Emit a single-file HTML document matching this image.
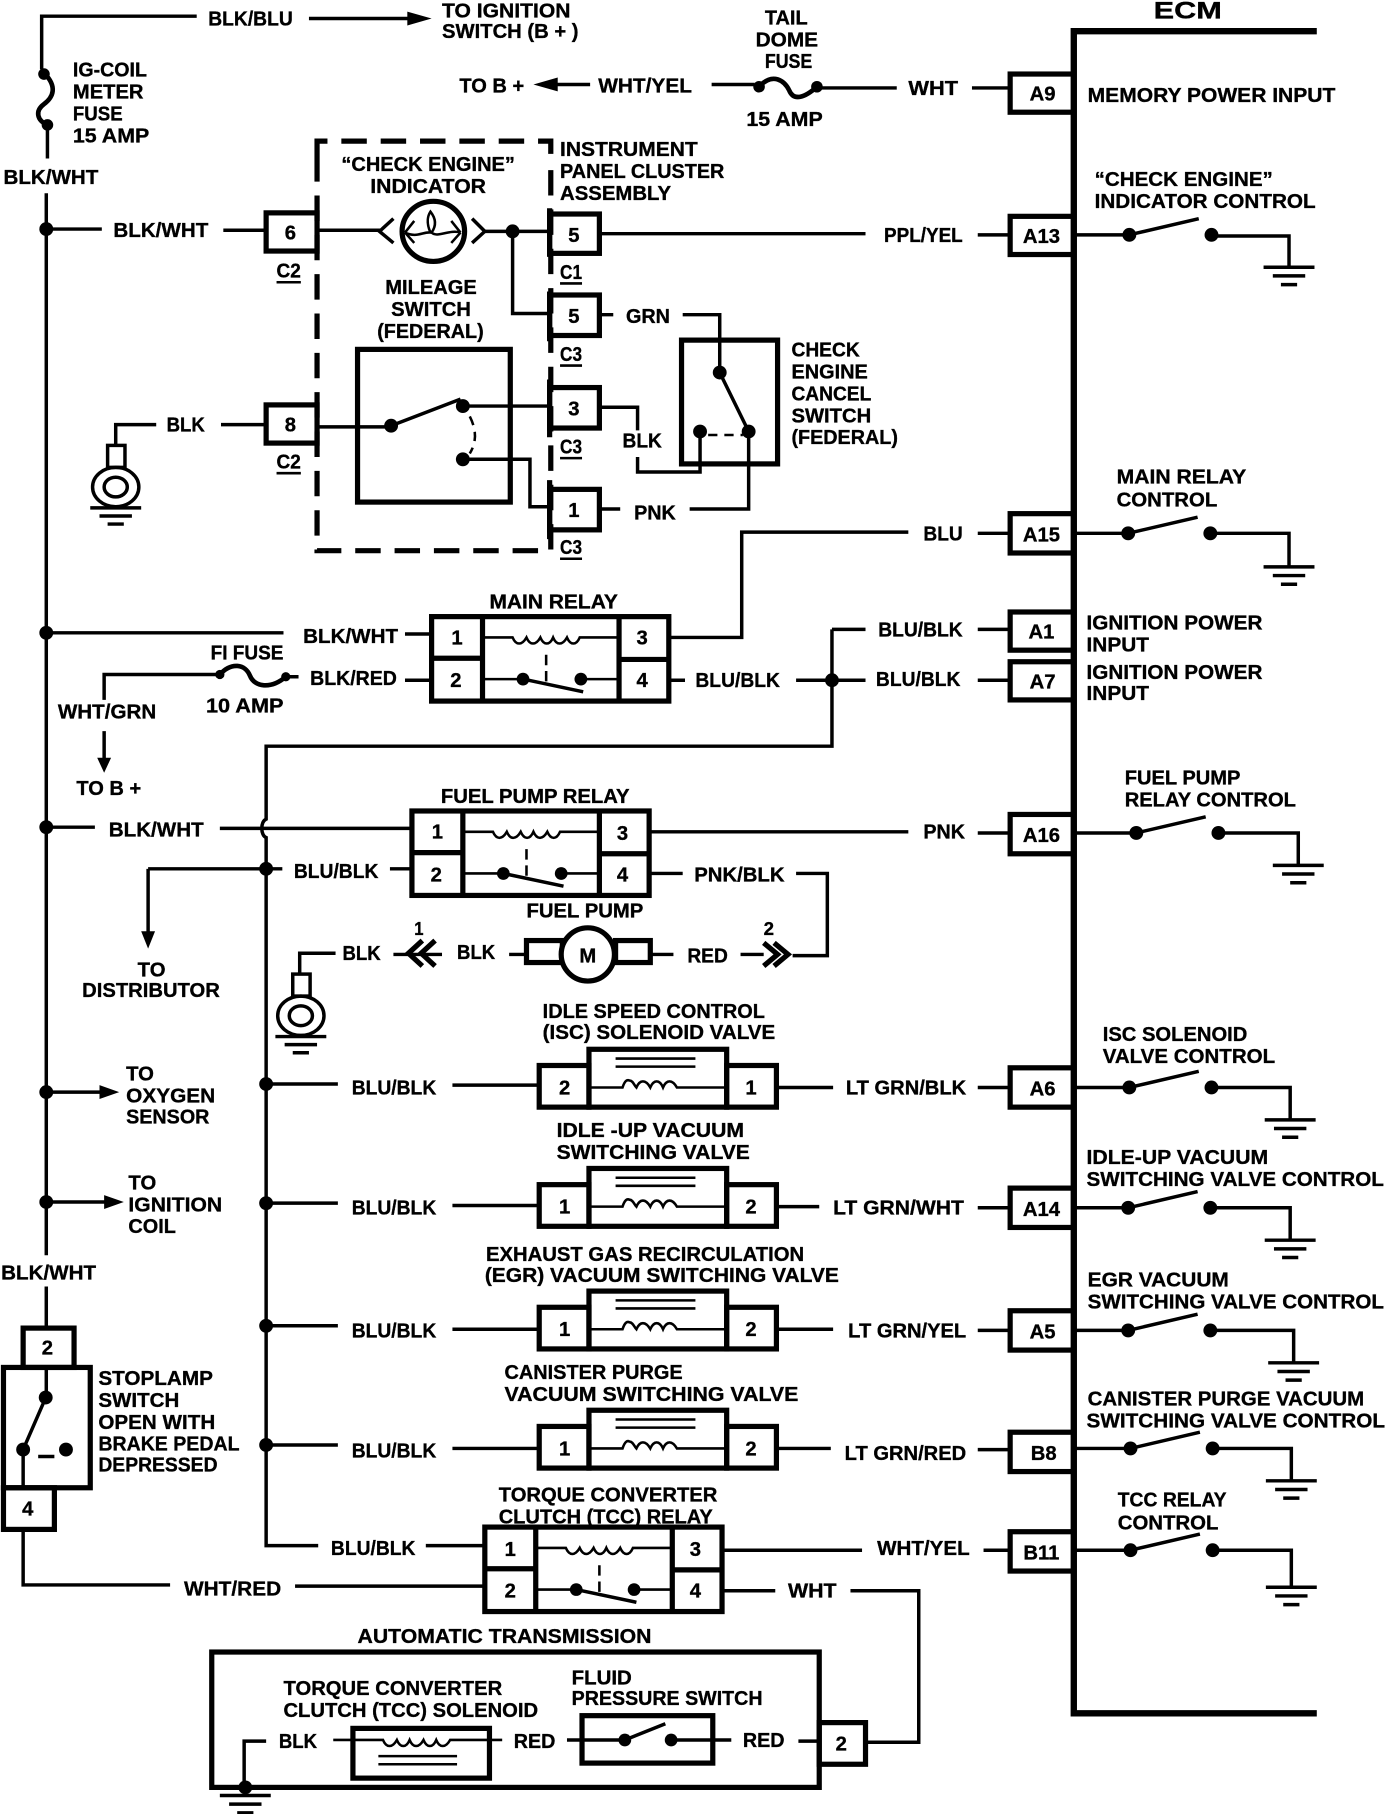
<!DOCTYPE html>
<html><head><meta charset="utf-8"><title>ECM wiring diagram</title>
<style>
html,body{margin:0;padding:0;background:#fff;width:1392px;height:1814px;overflow:hidden}
svg{display:block}
text{font-family:"Liberation Sans",sans-serif;font-weight:bold;font-size:17.5px;fill:#000;stroke:#000;stroke-width:.3}
.c{text-anchor:middle}
.w{fill:none;stroke:#000;stroke-width:3}
.b{fill:none;stroke:#000;stroke-width:4.5}
.t{fill:none;stroke:#000;stroke-width:2.2}
.d{fill:#000;stroke:none}
</style></head><body>
<svg xmlns="http://www.w3.org/2000/svg" width="1392" height="1814" viewBox="0 0 1203 1568" preserveAspectRatio="none">
<defs>
<g id="g"><path class="w" d="M-22 0H22M-14 7.5H14M-7 15H7"/></g>
<g id="s"><circle class="d" r="6"/><circle class="d" cx="71" r="6"/><path class="w" d="M0 0L60-14"/></g>
<g id="e"><rect class="w" x="-7" y="0" width="15" height="19"/><ellipse class="w" cx="0" cy="36" rx="20" ry="17"/><ellipse class="w" cx="0" cy="36" rx="10" ry="8.5"/><path class="w" d="M-22 54H22M-14 61H14M-7 68H7"/></g>
<g id="sol"><rect class="b" x="0" y="-33" width="119" height="50"/><rect class="b" x="-43" y="-19" width="43" height="36"/><rect class="b" x="119" y="-19" width="43" height="36"/><path class="t" d="M0 0H29c2-6 4-7 6-6c3 0 4 4 6 6c3-7 8-7 12 0c3-7 8-7 11 0c3-7 8-7 12 0c2 0 3 0 5 0H119"/><path class="t" d="M23-25H92M23-18H92"/></g>
<g id="r"><rect class="b" width="205" height="73"/><path class="b" d="M44 0V73M162 0V73M0 36H44M162 37H205"/><path class="t" d="M44 18H70c3 7 8 7 12 0c3 7 8 7 12 0c3 7 8 7 11 0c3 7 8 7 12 0c3 7 8 7 11 0H162M44 54H79M129 54H162"/><path class="t" stroke-dasharray="9 5" d="M99 33V59"/><circle class="d" cx="79" cy="54" r="5.5"/><circle class="d" cx="129" cy="54" r="5.5"/><path class="w" d="M79 54L131 65"/></g>
</defs>

<!-- ECM -->
<path style="fill:none;stroke:#000;stroke-width:5.5" d="M1138 27H928V1481H1138"/>
<text x="997" y="16" textLength="59" lengthAdjust="spacingAndGlyphs" style="font-size:21px">ECM</text>

<!-- top wires -->
<path class="w" d="M36 60V14H170M267 16H360M41 108V137M40 167V1085M40 1112V1148"/>
<path class="d" d="M352 10L373 16L352 22Z"/>
<path class="w" style="stroke-width:4" d="M38 63C50 75 46 84 38 90C30 96 32 104 41 108"/>
<circle class="d" cx="38" cy="64" r="5"/><circle class="d" cx="41" cy="108" r="5"/>
<text x="180" y="22" textLength="73" lengthAdjust="spacingAndGlyphs">BLK/BLU</text>
<text x="382" y="15" textLength="111" lengthAdjust="spacingAndGlyphs">TO IGNITION</text>
<text x="382" y="33" textLength="118" lengthAdjust="spacingAndGlyphs">SWITCH (B + )</text>
<text x="63" y="66" textLength="64" lengthAdjust="spacingAndGlyphs">IG-COIL</text>
<text x="63" y="85" textLength="61" lengthAdjust="spacingAndGlyphs">METER</text>
<text x="63" y="104" textLength="43" lengthAdjust="spacingAndGlyphs">FUSE</text>
<text x="63" y="123" textLength="66" lengthAdjust="spacingAndGlyphs">15 AMP</text>
<text x="3" y="159" textLength="82" lengthAdjust="spacingAndGlyphs">BLK/WHT</text>

<!-- A9 row -->
<path class="w" d="M510 73H475M615 73H652M708 76H775M840 76H873"/>
<path class="d" d="M482 67L461 73L482 79Z"/>
<path class="w" style="stroke-width:4" d="M656 75C668 62 678 70 682 78C686 88 696 84 706 75"/>
<circle class="d" cx="656" cy="75" r="5"/><circle class="d" cx="706" cy="75" r="5"/>
<text x="397" y="80" textLength="56" lengthAdjust="spacingAndGlyphs">TO B +</text>
<text x="517" y="80" textLength="81" lengthAdjust="spacingAndGlyphs">WHT/YEL</text>
<text x="661" y="21" textLength="37" lengthAdjust="spacingAndGlyphs">TAIL</text>
<text x="653" y="40" textLength="54" lengthAdjust="spacingAndGlyphs">DOME</text>
<text x="661" y="59" textLength="41" lengthAdjust="spacingAndGlyphs">FUSE</text>
<text x="645" y="109" textLength="66" lengthAdjust="spacingAndGlyphs">15 AMP</text>
<text x="785" y="82" textLength="43" lengthAdjust="spacingAndGlyphs">WHT</text>
<rect class="b" x="873" y="64" width="55" height="33"/><text class="c" x="901" y="87">A9</text>
<text x="940" y="88" textLength="214" lengthAdjust="spacingAndGlyphs">MEMORY POWER INPUT</text>

<!-- dashed cluster -->
<path class="b" stroke-dasharray="22 12" d="M274 135V122H476V135M274 135V476H476V135"/>
<text x="295" y="148" textLength="150" lengthAdjust="spacingAndGlyphs">“CHECK ENGINE”</text>
<text x="320" y="167" textLength="100" lengthAdjust="spacingAndGlyphs">INDICATOR</text>
<text x="484" y="135" textLength="119" lengthAdjust="spacingAndGlyphs">INSTRUMENT</text>
<text x="484" y="154" textLength="142" lengthAdjust="spacingAndGlyphs">PANEL CLUSTER</text>
<text x="484" y="173" textLength="96" lengthAdjust="spacingAndGlyphs">ASSEMBLY</text>
<text x="333" y="254" textLength="79" lengthAdjust="spacingAndGlyphs">MILEAGE</text>
<text x="338" y="273" textLength="69" lengthAdjust="spacingAndGlyphs">SWITCH</text>
<text x="326" y="292" textLength="92" lengthAdjust="spacingAndGlyphs">(FEDERAL)</text>

<!-- row 198 -->
<path class="w" d="M40 198H88M193 199H230M275 199H329M419 200H475M518 202H748M845 203H873M443 200V271H475"/>
<circle class="d" cx="40" cy="198" r="6"/><circle class="d" cx="443" cy="200" r="6"/>
<text x="98" y="205" textLength="82" lengthAdjust="spacingAndGlyphs">BLK/WHT</text>
<rect class="b" x="230" y="184" width="44" height="33"/><text class="c" x="251" y="207">6</text>
<text x="239" y="240" textLength="21" lengthAdjust="spacingAndGlyphs">C2</text><path class="t" d="M239 244H260"/>
<path class="w" d="M340 189L328 200L340 210M408 189L419 200L408 210"/>
<ellipse cx="374.500" cy="200" rx="27" ry="26" style="fill:none;stroke:#000;stroke-width:4.5"/>
<path class="t" d="M350 201C360 206 366 200 372 201C368 192 370 186 372 183C376 188 378 194 373 201C378 206 388 198 398 201M350 201L358 191M350 201L358 210M398 201L390 191M398 201L390 210"/>
<rect class="b" x="475" y="185" width="43" height="34"/><text class="c" x="496" y="209">5</text>
<path class="b" d="M475 180V222"/>
<text x="484" y="241" textLength="19" lengthAdjust="spacingAndGlyphs">C1</text><path class="t" d="M484 245H503"/>
<text x="764" y="209" textLength="68" lengthAdjust="spacingAndGlyphs">PPL/YEL</text>
<rect class="b" x="873" y="187" width="55" height="33"/><text class="c" x="900" y="210">A13</text>

<!-- 5 GRN -->
<rect class="b" x="475" y="255" width="43" height="35"/><text class="c" x="496" y="279">5</text>
<path class="b" d="M475 252V295"/>
<text x="484" y="312" textLength="19" lengthAdjust="spacingAndGlyphs">C3</text><path class="t" d="M484 316H503"/>
<path class="w" d="M518 272H530M590 272H622V322"/>
<text x="541" y="279" textLength="38" lengthAdjust="spacingAndGlyphs">GRN</text>

<!-- mileage switch -->
<rect class="b" x="309" y="302" width="132" height="132"/>
<path class="w" d="M191 367H230M273 369H338M338 368L398 345M400 351H475M400 397H458V438H475"/>
<circle class="d" cx="338" cy="368" r="6"/><circle class="d" cx="400" cy="351" r="6"/><circle class="d" cx="400" cy="397" r="6"/>
<path class="t" stroke-dasharray="8 6" d="M406 360C412 372 412 382 406 392"/>
<rect class="b" x="230" y="350" width="44" height="33"/><text class="c" x="251" y="373">8</text>
<text x="239" y="405" textLength="21" lengthAdjust="spacingAndGlyphs">C2</text><path class="t" d="M239 409H260"/>
<text x="144" y="373" textLength="33" lengthAdjust="spacingAndGlyphs">BLK</text>
<path class="w" d="M135 367H100V385"/>
<use href="#e" x="100" y="385"/>

<rect class="b" x="475" y="335" width="43" height="35"/><text class="c" x="496" y="359">3</text>
<path class="b" d="M475 328V378"/>
<text x="484" y="392" textLength="19" lengthAdjust="spacingAndGlyphs">C3</text><path class="t" d="M484 396H503"/>
<rect class="b" x="475" y="423" width="43" height="35"/><text class="c" x="496" y="447">1</text>
<path class="b" d="M475 415V466"/>
<text x="484" y="479" textLength="19" lengthAdjust="spacingAndGlyphs">C3</text><path class="t" d="M484 483H503"/>

<!-- cancel switch -->
<rect class="b" x="589" y="294" width="83" height="107"/>
<path class="w" d="M518 352H551V372M551 395V408H605V374M622 322L647 373M647 375V440H596M518 440H536"/>
<circle class="d" cx="622" cy="322" r="6"/><circle class="d" cx="605" cy="373" r="6"/><circle class="d" cx="647" cy="373" r="6"/>
<path class="t" stroke-dasharray="8 6" d="M612 376H642"/>
<text x="538" y="387" textLength="34" lengthAdjust="spacingAndGlyphs">BLK</text>
<text x="548" y="449" textLength="36" lengthAdjust="spacingAndGlyphs">PNK</text>
<text x="684" y="308" textLength="59" lengthAdjust="spacingAndGlyphs">CHECK</text>
<text x="684" y="327" textLength="66" lengthAdjust="spacingAndGlyphs">ENGINE</text>
<text x="684" y="346" textLength="69" lengthAdjust="spacingAndGlyphs">CANCEL</text>
<text x="684" y="365" textLength="69" lengthAdjust="spacingAndGlyphs">SWITCH</text>
<text x="684" y="384" textLength="92" lengthAdjust="spacingAndGlyphs">(FEDERAL)</text>

<!-- main relay -->
<text x="423" y="526" textLength="111" lengthAdjust="spacingAndGlyphs">MAIN RELAY</text>
<use href="#r" x="373" y="533"/>
<text class="c" x="395" y="557">1</text><text class="c" x="394" y="594">2</text><text class="c" x="555" y="557">3</text><text class="c" x="555" y="594">4</text>
<path class="w" d="M40 547H245M350 548H373M578 551H641V460H785M845 461H873"/>
<circle class="d" cx="40" cy="547" r="6"/>
<text x="262" y="556" textLength="82" lengthAdjust="spacingAndGlyphs">BLK/WHT</text>
<text x="798" y="467" textLength="34" lengthAdjust="spacingAndGlyphs">BLU</text>
<rect class="b" x="873" y="444" width="55" height="34"/><text class="c" x="900" y="468">A15</text>
<text x="182" y="570" textLength="63" lengthAdjust="spacingAndGlyphs">FI FUSE</text>
<path class="w" d="M90 605V583H190M247 585H258M350 588H373M90 632V660"/>
<path class="d" d="M84 655L90 668L96 655Z"/>
<path class="w" style="stroke-width:4" d="M190 583C200 572 212 574 216 584C220 594 234 596 247 585"/>
<circle class="d" cx="190" cy="583" r="4"/><circle class="d" cx="247" cy="585" r="4"/>
<text x="268" y="592" textLength="75" lengthAdjust="spacingAndGlyphs">BLK/RED</text>
<text x="178" y="616" textLength="67" lengthAdjust="spacingAndGlyphs">10 AMP</text>
<text x="50" y="621" textLength="85" lengthAdjust="spacingAndGlyphs">WHT/GRN</text>
<text x="66" y="687" textLength="56" lengthAdjust="spacingAndGlyphs">TO B +</text>
<path class="w" d="M578 588H592M688 588H748M719 544V645H230V708C225 710 225 722 230 724V1336H275M719 544H748M845 544H873M845 588H873M368 1336H420"/>
<circle class="d" cx="719" cy="588" r="6"/>
<text x="601" y="594" textLength="73" lengthAdjust="spacingAndGlyphs">BLU/BLK</text>
<text x="759" y="550" textLength="73" lengthAdjust="spacingAndGlyphs">BLU/BLK</text>
<text x="757" y="593" textLength="73" lengthAdjust="spacingAndGlyphs">BLU/BLK</text>
<rect class="b" x="873" y="529" width="55" height="33"/><text class="c" x="900" y="552">A1</text>
<rect class="b" x="873" y="572" width="55" height="33"/><text class="c" x="901" y="595">A7</text>
<text x="939" y="544" textLength="152" lengthAdjust="spacingAndGlyphs">IGNITION POWER</text>
<text x="939" y="563" textLength="54" lengthAdjust="spacingAndGlyphs">INPUT</text>
<text x="939" y="587" textLength="152" lengthAdjust="spacingAndGlyphs">IGNITION POWER</text>
<text x="939" y="605" textLength="54" lengthAdjust="spacingAndGlyphs">INPUT</text>

<!-- fuel pump relay -->
<text x="381" y="694" textLength="163" lengthAdjust="spacingAndGlyphs">FUEL PUMP RELAY</text>
<use href="#r" x="356" y="701"/>
<text class="c" x="378" y="725">1</text><text class="c" x="377" y="762">2</text><text class="c" x="538" y="726">3</text><text class="c" x="538" y="762">4</text>
<path class="w" d="M40 715H82M190 716H356M561 719H785M845 720H873M128 751H244M337 751H356M128 751V808M561 755H590M688 755H715V826H685M640 825H660M562 825H582M440 825H455M340 825H382M290 824H259V842"/>
<circle class="d" cx="40" cy="715" r="6"/><circle class="d" cx="230" cy="751" r="6"/>
<path class="d" d="M122 805L128 820L134 805Z"/>
<text x="94" y="723" textLength="82" lengthAdjust="spacingAndGlyphs">BLK/WHT</text>
<text x="798" y="725" textLength="36" lengthAdjust="spacingAndGlyphs">PNK</text>
<rect class="b" x="873" y="704" width="55" height="34"/><text class="c" x="900" y="728">A16</text>
<text x="254" y="759" textLength="73" lengthAdjust="spacingAndGlyphs">BLU/BLK</text>
<text x="600" y="762" textLength="78" lengthAdjust="spacingAndGlyphs">PNK/BLK</text>
<text x="119" y="844" textLength="24" lengthAdjust="spacingAndGlyphs">TO</text>
<text x="71" y="862" textLength="119" lengthAdjust="spacingAndGlyphs">DISTRIBUTOR</text>
<text x="455" y="793" textLength="101" lengthAdjust="spacingAndGlyphs">FUEL PUMP</text>
<rect class="b" x="455" y="813" width="31" height="19"/><rect class="b" x="532" y="813" width="30" height="19"/>
<circle cx="508" cy="825" r="23" style="fill:#fff;stroke:#000;stroke-width:4.5"/><text class="c" x="508" y="832">M</text>
<text x="395" y="829" textLength="33" lengthAdjust="spacingAndGlyphs">BLK</text>
<text x="296" y="830" textLength="33" lengthAdjust="spacingAndGlyphs">BLK</text>
<text x="594" y="832" textLength="35" lengthAdjust="spacingAndGlyphs">RED</text>
<text x="358" y="808" textLength="8" lengthAdjust="spacingAndGlyphs" style="font-size:16px">1</text>
<text x="660" y="808" textLength="9" lengthAdjust="spacingAndGlyphs" style="font-size:16px">2</text>
<path class="b" d="M365 813L353 824L365 835M376 813L364 824L376 835"/>
<path class="b" d="M660 815L672 825L660 835M669 815L681 825L669 835"/>
<use href="#e" x="260" y="842"/>

<!-- branch junctions -->
<circle class="d" cx="230" cy="937" r="6"/><circle class="d" cx="230" cy="1040" r="6"/><circle class="d" cx="230" cy="1146" r="6"/><circle class="d" cx="230" cy="1249" r="6"/>
<circle class="d" cx="40" cy="944" r="6"/><circle class="d" cx="40" cy="1039" r="6"/>
<path class="w" d="M40 944H90M40 1039H95"/>
<path class="d" d="M86 938L103 944L86 950Z"/><path class="d" d="M90 1033L107 1039L90 1045Z"/>
<text x="109" y="934" textLength="24" lengthAdjust="spacingAndGlyphs">TO</text>
<text x="109" y="953" textLength="77" lengthAdjust="spacingAndGlyphs">OXYGEN</text>
<text x="109" y="971" textLength="72" lengthAdjust="spacingAndGlyphs">SENSOR</text>
<text x="111" y="1028" textLength="24" lengthAdjust="spacingAndGlyphs">TO</text>
<text x="111" y="1047" textLength="81" lengthAdjust="spacingAndGlyphs">IGNITION</text>
<text x="111" y="1066" textLength="41" lengthAdjust="spacingAndGlyphs">COIL</text>

<!-- ISC -->
<text x="469" y="880" textLength="192" lengthAdjust="spacingAndGlyphs">IDLE SPEED CONTROL</text>
<text x="469" y="898" textLength="201" lengthAdjust="spacingAndGlyphs">(ISC) SOLENOID VALVE</text>
<use href="#sol" x="509" y="940"/>
<text class="c" x="488" y="946">2</text><text class="c" x="649" y="946">1</text>
<path class="w" d="M230 937H292M391 938H466M671 940H720M845 940H873"/>
<text x="304" y="946" textLength="73" lengthAdjust="spacingAndGlyphs">BLU/BLK</text>
<text x="731" y="946" textLength="104" lengthAdjust="spacingAndGlyphs">LT GRN/BLK</text>
<rect class="b" x="873" y="923" width="55" height="34"/><text class="c" x="901" y="947">A6</text>

<!-- idle-up -->
<text x="481" y="983" textLength="162" lengthAdjust="spacingAndGlyphs">IDLE -UP VACUUM</text>
<text x="481" y="1002" textLength="167" lengthAdjust="spacingAndGlyphs">SWITCHING VALVE</text>
<use href="#sol" x="509" y="1043"/>
<text class="c" x="488" y="1049">1</text><text class="c" x="649" y="1049">2</text>
<path class="w" d="M230 1040H292M391 1042H466M671 1043H708M845 1044H873"/>
<text x="304" y="1050" textLength="73" lengthAdjust="spacingAndGlyphs">BLU/BLK</text>
<text x="720" y="1050" textLength="113" lengthAdjust="spacingAndGlyphs">LT GRN/WHT</text>
<rect class="b" x="873" y="1027" width="55" height="34"/><text class="c" x="900" y="1051">A14</text>

<!-- EGR -->
<text x="420" y="1090" textLength="275" lengthAdjust="spacingAndGlyphs">EXHAUST GAS RECIRCULATION</text>
<text x="419" y="1108" textLength="306" lengthAdjust="spacingAndGlyphs">(EGR) VACUUM SWITCHING VALVE</text>
<use href="#sol" x="509" y="1149"/>
<text class="c" x="488" y="1155">1</text><text class="c" x="649" y="1155">2</text>
<path class="w" d="M230 1146H292M391 1149H466M671 1149H720M845 1150H873"/>
<text x="304" y="1156" textLength="73" lengthAdjust="spacingAndGlyphs">BLU/BLK</text>
<text x="733" y="1156" textLength="102" lengthAdjust="spacingAndGlyphs">LT GRN/YEL</text>
<rect class="b" x="873" y="1133" width="55" height="34"/><text class="c" x="901" y="1157">A5</text>

<!-- canister -->
<text x="436" y="1192" textLength="154" lengthAdjust="spacingAndGlyphs">CANISTER PURGE</text>
<text x="436" y="1211" textLength="254" lengthAdjust="spacingAndGlyphs">VACUUM SWITCHING VALVE</text>
<use href="#sol" x="509" y="1252"/>
<text class="c" x="488" y="1258">1</text><text class="c" x="649" y="1258">2</text>
<path class="w" d="M230 1249H292M391 1252H466M671 1252H718M845 1253H873"/>
<text x="304" y="1260" textLength="73" lengthAdjust="spacingAndGlyphs">BLU/BLK</text>
<text x="730" y="1262" textLength="105" lengthAdjust="spacingAndGlyphs">LT GRN/RED</text>
<rect class="b" x="873" y="1238" width="55" height="34"/><text class="c" x="902" y="1262">B8</text>

<!-- TCC relay -->
<text x="431" y="1298" textLength="189" lengthAdjust="spacingAndGlyphs">TORQUE CONVERTER</text>
<text x="431" y="1317" textLength="185" lengthAdjust="spacingAndGlyphs">CLUTCH (TCC) RELAY</text>
<use href="#r" x="419" y="1320"/>
<text class="c" x="441" y="1345">1</text><text class="c" x="441" y="1381">2</text><text class="c" x="601" y="1345">3</text><text class="c" x="601" y="1381">4</text>
<text x="286" y="1344" textLength="73" lengthAdjust="spacingAndGlyphs">BLU/BLK</text>
<path class="w" d="M20 1253V1286M20 1322V1370H147M255 1371H420M622 1340H745M850 1340H873M622 1375H670M735 1375H794V1506H748"/>
<text x="159" y="1379" textLength="84" lengthAdjust="spacingAndGlyphs">WHT/RED</text>
<text x="758" y="1344" textLength="80" lengthAdjust="spacingAndGlyphs">WHT/YEL</text>
<text x="681" y="1381" textLength="42" lengthAdjust="spacingAndGlyphs">WHT</text>
<rect class="b" x="873" y="1324" width="55" height="34"/><text class="c" x="900" y="1348">B11</text>

<!-- automatic transmission -->
<text x="309" y="1420" textLength="254" lengthAdjust="spacingAndGlyphs">AUTOMATIC TRANSMISSION</text>
<rect class="b" x="183" y="1428" width="525" height="117"/>
<rect class="b" x="708" y="1489" width="40" height="36"/><text class="c" x="727" y="1513">2</text>
<text x="245" y="1465" textLength="189" lengthAdjust="spacingAndGlyphs">TORQUE CONVERTER</text>
<text x="245" y="1484" textLength="220" lengthAdjust="spacingAndGlyphs">CLUTCH (TCC) SOLENOID</text>
<text x="494" y="1456" textLength="52" lengthAdjust="spacingAndGlyphs">FLUID</text>
<text x="494" y="1474" textLength="165" lengthAdjust="spacingAndGlyphs">PRESSURE SWITCH</text>
<rect class="b" x="305" y="1494" width="118" height="43"/>
<path class="t" d="M288 1504H331c3 7 8 7 12 0c3 7 8 7 11 0c3 7 8 7 12 0c3 7 8 7 11 0c3 7 8 7 12 0H434M327 1518H395M327 1525H395"/>
<rect class="b" x="503" y="1483" width="113" height="41"/>
<circle class="d" cx="540" cy="1504" r="5.500"/><circle class="d" cx="580" cy="1504" r="5.500"/>
<path class="w" d="M490 1504H540M540 1504L575 1490M580 1504H632"/>
<path class="w" d="M230 1505H211V1545M690 1505H708"/>
<circle class="d" cx="212" cy="1545" r="6"/>
<use href="#g" x="212" y="1552"/>
<text x="241" y="1511" textLength="33" lengthAdjust="spacingAndGlyphs">BLK</text>
<text x="444" y="1511" textLength="36" lengthAdjust="spacingAndGlyphs">RED</text>
<text x="642" y="1510" textLength="36" lengthAdjust="spacingAndGlyphs">RED</text>

<!-- stoplamp -->
<text x="1" y="1106" textLength="82" lengthAdjust="spacingAndGlyphs">BLK/WHT</text>
<rect class="b" x="20" y="1148" width="44" height="34"/><text class="c" x="41" y="1171">2</text>
<rect class="b" x="3" y="1182" width="75" height="104"/>
<rect class="b" x="3" y="1286" width="44" height="36"/><text class="c" x="24" y="1310">4</text>
<path class="w" d="M40 1182V1207M40 1207L20 1253"/>
<circle class="d" cx="39.500" cy="1208" r="6"/><circle class="d" cx="20" cy="1253" r="6"/><circle class="d" cx="57" cy="1253" r="6"/>
<path class="w" d="M33 1259H47"/>
<text x="85" y="1197" textLength="99" lengthAdjust="spacingAndGlyphs">STOPLAMP</text>
<text x="85" y="1216" textLength="70" lengthAdjust="spacingAndGlyphs">SWITCH</text>
<text x="85" y="1235" textLength="101" lengthAdjust="spacingAndGlyphs">OPEN WITH</text>
<text x="85" y="1254" textLength="122" lengthAdjust="spacingAndGlyphs">BRAKE PEDAL</text>
<text x="85" y="1272" textLength="103" lengthAdjust="spacingAndGlyphs">DEPRESSED</text>

<!-- ECM internal switches -->
<text x="946" y="161" textLength="154" lengthAdjust="spacingAndGlyphs">“CHECK ENGINE”</text>
<text x="946" y="180" textLength="191" lengthAdjust="spacingAndGlyphs">INDICATOR CONTROL</text>
<path class="w" d="M928 203H976M1047 204H1114V231"/><use href="#s" x="976" y="203"/><use href="#g" x="1114" y="231"/>

<text x="965" y="418" textLength="112" lengthAdjust="spacingAndGlyphs">MAIN RELAY</text>
<text x="965" y="438" textLength="87" lengthAdjust="spacingAndGlyphs">CONTROL</text>
<path class="w" d="M928 461H975M1045 461H1114V490"/><use href="#s" x="975" y="461"/><use href="#g" x="1114" y="490"/>

<text x="972" y="678" textLength="100" lengthAdjust="spacingAndGlyphs">FUEL PUMP</text>
<text x="972" y="697" textLength="148" lengthAdjust="spacingAndGlyphs">RELAY CONTROL</text>
<path class="w" d="M928 720H982M1052 720H1122V748"/><use href="#s" x="982" y="720"/><use href="#g" x="1122" y="748"/>

<text x="953" y="900" textLength="125" lengthAdjust="spacingAndGlyphs">ISC SOLENOID</text>
<text x="953" y="919" textLength="149" lengthAdjust="spacingAndGlyphs">VALVE CONTROL</text>
<path class="w" d="M928 940H976M1047 940H1115V968"/><use href="#s" x="976" y="940"/><use href="#g" x="1115" y="968"/>

<text x="939" y="1006" textLength="157" lengthAdjust="spacingAndGlyphs">IDLE-UP VACUUM</text>
<text x="939" y="1025" textLength="257" lengthAdjust="spacingAndGlyphs">SWITCHING VALVE CONTROL</text>
<path class="w" d="M928 1044H975M1047 1044H1115V1072"/><use href="#s" x="975" y="1044"/><use href="#g" x="1115" y="1072"/>

<text x="940" y="1112" textLength="122" lengthAdjust="spacingAndGlyphs">EGR VACUUM</text>
<text x="940" y="1131" textLength="256" lengthAdjust="spacingAndGlyphs">SWITCHING VALVE CONTROL</text>
<path class="w" d="M928 1150H975M1047 1150H1118V1178"/><use href="#s" x="975" y="1150"/><use href="#g" x="1118" y="1178"/>

<text x="940" y="1215" textLength="239" lengthAdjust="spacingAndGlyphs">CANISTER PURGE VACUUM</text>
<text x="939" y="1234" textLength="258" lengthAdjust="spacingAndGlyphs">SWITCHING VALVE CONTROL</text>
<path class="w" d="M928 1252H977M1047 1252H1116V1280"/><use href="#s" x="977" y="1252"/><use href="#g" x="1116" y="1280"/>

<text x="966" y="1302" textLength="94" lengthAdjust="spacingAndGlyphs">TCC RELAY</text>
<text x="966" y="1322" textLength="87" lengthAdjust="spacingAndGlyphs">CONTROL</text>
<path class="w" d="M928 1340H977M1047 1340H1116V1372"/><use href="#s" x="977" y="1340"/><use href="#g" x="1116" y="1372"/>
</svg>
</body></html>
